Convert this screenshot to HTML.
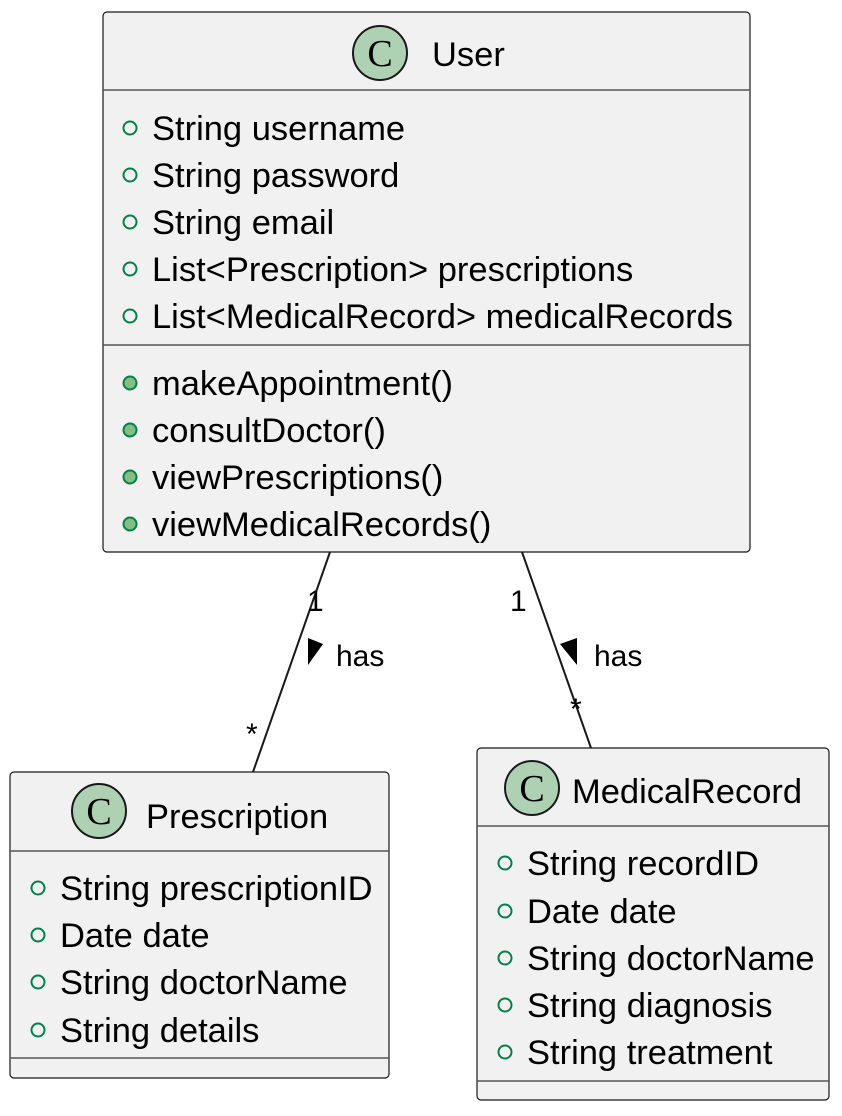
<!DOCTYPE html>
<html><head><meta charset="utf-8"><style>
html,body{margin:0;padding:0;background:#fff;}
svg{display:block;}
text{font-family:"Liberation Sans",sans-serif;fill:#000;}
</style></head><body>
<svg width="842" height="1116" viewBox="0 0 842 1116" xmlns="http://www.w3.org/2000/svg">
<defs>
<g id="ci"><circle r="6.5" fill="none" stroke="#038048" stroke-width="2"/></g>
<g id="cf"><circle r="6.5" fill="#84BE84" stroke="#038048" stroke-width="2"/></g>
</defs>
<line x1="330" y1="552" x2="253" y2="772" stroke="#181818" stroke-width="2"/>
<line x1="522" y1="552" x2="591" y2="748" stroke="#181818" stroke-width="2"/>
<polygon points="308,638 323,644 308,665" fill="#000"/>
<polygon points="577,638 560,644 577,665" fill="#000"/>
<text x="336" y="666" font-size="30">has</text>
<text x="594" y="666" font-size="30">has</text>
<text x="307" y="611" font-size="30">1</text>
<text x="510" y="611" font-size="30">1</text>
<text x="246" y="744" font-size="30">*</text>
<text x="570" y="719" font-size="30">*</text>

<rect x="103" y="12" width="647" height="540" rx="4" fill="#F1F1F1" stroke="#181818" stroke-width="1.2"/>
<line x1="103" y1="90" x2="750" y2="90" stroke="#555" stroke-width="1.5"/>
<line x1="103" y1="345" x2="750" y2="345" stroke="#555" stroke-width="1.5"/>
<circle cx="380" cy="53" r="27" fill="#ADD1B2" stroke="#181818" stroke-width="2"/>
<text x="380" y="66" text-anchor="middle" style="font-family:'Liberation Serif',serif;font-size:38px">C</text>
<text x="432" y="66" font-size="34.5">User</text>
<g font-size="34.5">
<use href="#ci" x="130" y="128"/><text x="152" y="140">String username</text>
<use href="#ci" x="130" y="175"/><text x="152" y="187">String password</text>
<use href="#ci" x="130" y="222"/><text x="152" y="234">String email</text>
<use href="#ci" x="130" y="269"/><text x="152" y="281">List&lt;Prescription&gt; prescriptions</text>
<use href="#ci" x="130" y="316"/><text x="152" y="328">List&lt;MedicalRecord&gt; medicalRecords</text>
<use href="#cf" x="130" y="383"/><text x="152" y="395">makeAppointment()</text>
<use href="#cf" x="130" y="430"/><text x="152" y="442">consultDoctor()</text>
<use href="#cf" x="130" y="477"/><text x="152" y="489">viewPrescriptions()</text>
<use href="#cf" x="130" y="524"/><text x="152" y="536">viewMedicalRecords()</text>
</g>

<rect x="10" y="772" width="379" height="306" rx="4" fill="#F1F1F1" stroke="#181818" stroke-width="1.2"/>
<line x1="10" y1="851" x2="389" y2="851" stroke="#555" stroke-width="1.5"/>
<line x1="10" y1="1058" x2="389" y2="1058" stroke="#555" stroke-width="1.5"/>
<circle cx="99" cy="811" r="27" fill="#ADD1B2" stroke="#181818" stroke-width="2"/>
<text x="99" y="824" text-anchor="middle" style="font-family:'Liberation Serif',serif;font-size:38px">C</text>
<text x="146" y="828" font-size="34.5">Prescription</text>
<g font-size="34.5">
<use href="#ci" x="38" y="888"/><text x="60" y="900">String prescriptionID</text>
<use href="#ci" x="38" y="935"/><text x="60" y="947">Date date</text>
<use href="#ci" x="38" y="982"/><text x="60" y="994">String doctorName</text>
<use href="#ci" x="38" y="1030"/><text x="60" y="1042">String details</text>
</g>

<rect x="477" y="748" width="352" height="352" rx="4" fill="#F1F1F1" stroke="#181818" stroke-width="1.2"/>
<line x1="477" y1="826" x2="829" y2="826" stroke="#555" stroke-width="1.5"/>
<line x1="477" y1="1081" x2="829" y2="1081" stroke="#555" stroke-width="1.5"/>
<circle cx="532" cy="788" r="27" fill="#ADD1B2" stroke="#181818" stroke-width="2"/>
<text x="532" y="801" text-anchor="middle" style="font-family:'Liberation Serif',serif;font-size:38px">C</text>
<text x="572" y="803" font-size="34.5">MedicalRecord</text>
<g font-size="34.5">
<use href="#ci" x="505" y="863"/><text x="527" y="875">String recordID</text>
<use href="#ci" x="505" y="911"/><text x="527" y="923">Date date</text>
<use href="#ci" x="505" y="958"/><text x="527" y="970">String doctorName</text>
<use href="#ci" x="505" y="1005"/><text x="527" y="1017">String diagnosis</text>
<use href="#ci" x="505" y="1052"/><text x="527" y="1064">String treatment</text>
</g>
</svg>
</body></html>
